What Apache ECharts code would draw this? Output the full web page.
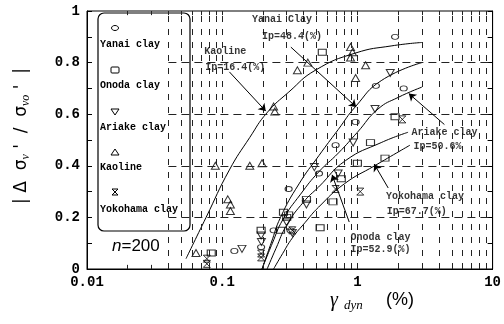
<!DOCTYPE html>
<html>
<head>
<meta charset="utf-8">
<script src="https://cdn.jsdelivr.net/npm/echarts@6/dist/echarts.min.js"></script>
<style>
  html, body { margin: 0; padding: 0; background: #fff; }
  #chart { width: 504px; height: 324px; }
</style>
</head>
<body>
<div id="chart"></div>
<script>
// ---- axis ticks and grid positions ----
const xTickLabels = ['0.01', '0.1', '1', '10'];
const yTickLabels = ['0', '0.2', '0.4', '0.6', '0.8', '1'];
const xGridValues = [0.04, 0.05, 0.06, 0.07, 0.08, 0.09, 0.1, 0.2, 0.3, 0.4, 0.5, 0.6, 0.7, 0.8, 0.9, 1, 2, 3, 4, 5, 6, 7, 8, 9];
const xTickValues = [0.02, 0.03, 0.04, 0.05, 0.06, 0.07, 0.08, 0.09, 0.1, 0.2, 0.3, 0.4, 0.5, 0.6, 0.7, 0.8, 0.9, 1, 2, 3, 4, 5, 6, 7, 8, 9];
const yGridValues = [0.2, 0.4, 0.6, 0.8];

// ---- measured points [gamma_dyn (%), |dσv'/σvo'|] ----
const yanaiPoints = [
  [0.123, 0.07], [0.194, 0.085], [0.24, 0.15], [0.32, 0.15], [0.31, 0.31], [0.52, 0.37],
  [0.69, 0.48], [0.97, 0.57], [1.37, 0.71], [2.2, 0.70], [1.9, 0.90]
];
const onodaPoints = [
  [0.083, 0.062], [0.194, 0.15], [0.27, 0.15], [0.284, 0.22], [0.30, 0.20], [0.31, 0.21],
  [0.42, 0.27], [0.53, 0.16], [0.66, 0.26], [0.76, 0.35], [1.0, 0.41], [1.25, 0.49],
  [1.6, 0.43], [1.9, 0.59], [0.55, 0.84]
];
const ariakePoints = [
  [0.14, 0.078], [0.194, 0.13], [0.195, 0.105], [0.30, 0.18], [0.33, 0.14], [0.42, 0.25],
  [0.48, 0.395], [0.72, 0.37], [0.93, 0.49], [1.35, 0.62], [1.75, 0.76]
];
const kaolinePoints = [
  [0.064, 0.062], [0.089, 0.40], [0.11, 0.27], [0.115, 0.25], [0.115, 0.225], [0.16, 0.40],
  [0.197, 0.41], [0.24, 0.63], [0.245, 0.61], [0.36, 0.77], [0.43, 0.80], [0.89, 0.86],
  [0.92, 0.84], [0.89, 0.82], [0.97, 0.74], [1.15, 0.79]
];
const yokohamaPoints = [
  [0.077, 0.04], [0.077, 0.02], [0.194, 0.06], [0.194, 0.045], [0.33, 0.15],
  [0.69, 0.31], [1.05, 0.30], [2.15, 0.58]
];

// ---- fitted curves ----
const kaolineCurve = [[0.054, 0.04], [0.076, 0.2], [0.113, 0.384], [0.16, 0.51], [0.214, 0.605], [0.311, 0.686], [0.491, 0.771], [0.967, 0.837], [1.8, 0.865], [3.0, 0.878]];
const yanaiCurve = [[0.197, 0], [0.23, 0.1], [0.27, 0.2], [0.37, 0.33], [0.52, 0.44], [0.72, 0.54], [0.97, 0.63], [1.5, 0.73], [3.0, 0.80]];
const ariakeCurve = [[0.197, 0], [0.235, 0.1], [0.28, 0.19], [0.38, 0.29], [0.517, 0.376], [0.725, 0.45], [1.0, 0.53], [1.42, 0.62], [2.0, 0.665], [3.0, 0.705]];
const onodaCurve = [[0.215, 0], [0.25, 0.08], [0.3, 0.17], [0.4, 0.26], [0.517, 0.318], [0.816, 0.42], [1.5, 0.49], [2.37, 0.53]];
const yokohamaCurve = [[0.24, 0], [0.28, 0.06], [0.33, 0.12], [0.41, 0.18], [0.517, 0.24], [0.8, 0.33], [1.34, 0.40], [2.45, 0.48]];

// ---- annotation texts (left edge, middle) and leader arrows ----
const noteTexts = [
  ['Kaoline', [0.0738, 0.843]],
  ['Ip=16.4(%)', [0.075, 0.78]],
  ['Yanai Clay', [0.166, 0.966]],
  ['Ip=48.4(%)', [0.197, 0.9]],
  ['Ariake clay', [2.51, 0.531]],
  ['Ip=50.6%', [2.6, 0.473]],
  ['Yokohama clay', [1.63, 0.283]],
  ['Ip=67.7(%)', [1.65, 0.221]],
  ['Onoda clay', [0.89, 0.124]],
  ['Ip=52.9(%)', [0.89, 0.074]]
];
const noteArrows = [
  [[0.113, 0.764], [0.21, 0.612]],
  [[0.322, 0.86], [0.98, 0.628]],
  [[4.4, 0.56], [2.4, 0.68]],
  [[1.69, 0.314], [1.33, 0.407]],
  [[0.87, 0.182], [0.65, 0.365]]
];

const MONO = '"Liberation Mono", "DejaVu Sans Mono", monospace';
const SANS = '"Liberation Sans", Arial, sans-serif';
const SERIF = '"Liberation Serif", "DejaVu Serif", serif';

const chart = echarts.init(document.getElementById('chart'), null, { renderer: 'canvas' });

const markerStyle = { color: 'rgba(0,0,0,0)', borderColor: '#000', borderWidth: 1 };

function scatter(name, data, symbol, size, rotate) {
  return {
    name, type: 'scatter', data, symbol, symbolSize: size, symbolRotate: rotate || 0,
    itemStyle: markerStyle, z: 4, silent: true
  };
}
function curve(name, data) {
  return {
    name, type: 'line', data, smooth: 0.5, showSymbol: false,
    lineStyle: { color: '#000', width: 1 }, z: 3, silent: true
  };
}

const gridLines = [];
xGridValues.forEach(v => gridLines.push([{ coord: [v, 0], lineStyle: { type: [6, 7] } }, { coord: [v, 1] }]));
yGridValues.forEach(v => gridLines.push([{ coord: [0.04, v], lineStyle: { type: [8, 5] } }, { coord: [10, v] }]));
xTickValues.forEach(v => {
  gridLines.push([{ coord: [v, 0], lineStyle: { type: 'solid' } }, { coord: [v, 0.016] }]);
  gridLines.push([{ coord: [v, 1], lineStyle: { type: 'solid' } }, { coord: [v, 0.984] }]);
});

const hourglass = 'path://M0,0L10,0L0,10L10,10Z';

const option = {
  animation: false,
  backgroundColor: '#fff',
  grid: { left: 87, right: 9, top: 11, bottom: 55, show: true, borderColor: '#000', borderWidth: 1 },
  xAxis: [{
    type: 'log', logBase: 10, min: 0.01, max: 10,
    axisLine: { show: true, lineStyle: { color: '#000' } },
    axisTick: { show: false }, splitLine: { show: false },
    axisLabel: {
      color: '#000', fontFamily: MONO, fontWeight: 'bold', fontSize: 14, margin: 6,
      formatter: v => xTickLabels.find(t => Math.abs(Math.log10(+t) - Math.log10(v)) < 1e-6) || ''
    }
  }],
  yAxis: [{
    type: 'value', min: 0, max: 1, interval: 0.2,
    axisLine: { show: true, lineStyle: { color: '#000' } },
    axisTick: { show: true, inside: true, length: 5, lineStyle: { color: '#000' } },
    minorTick: { show: true, splitNumber: 2, length: 5, lineStyle: { color: '#000' } },
    splitLine: { show: false },
    axisLabel: {
      color: '#000', fontFamily: MONO, fontWeight: 'bold', fontSize: 14, margin: 7,
      formatter: v => yTickLabels[Math.round(v / 0.2)]
    }
  }, {
    type: 'value', min: 0, max: 1, interval: 0.2, position: 'right',
    axisLine: { show: true, lineStyle: { color: '#000' } },
    axisTick: { show: true, inside: true, length: 5, lineStyle: { color: '#000' } },
    minorTick: { show: true, splitNumber: 2, length: 5, lineStyle: { color: '#000' } },
    splitLine: { show: false }, axisLabel: { show: false }
  }],
  series: [
    {
      name: 'grid', type: 'line', data: [], silent: true, z: 1,
      markLine: {
        silent: true, symbol: ['none', 'none'], label: { show: false },
        lineStyle: { color: '#222', width: 1 }, emphasis: { disabled: true },
        data: gridLines
      }
    },
    curve('Kaoline fit', kaolineCurve),
    curve('Yanai clay fit', yanaiCurve),
    curve('Ariake clay fit', ariakeCurve),
    curve('Onoda clay fit', onodaCurve),
    curve('Yokohama clay fit', yokohamaCurve),
    scatter('Yanai clay', yanaiPoints, 'circle', [7, 5]),
    scatter('Onoda clay', onodaPoints, 'rect', [8, 6]),
    scatter('Ariake clay', ariakePoints, 'triangle', [8, 7], 180),
    scatter('Kaoline', kaolinePoints, 'triangle', [8, 7]),
    scatter('Yokohama clay', yokohamaPoints, hourglass, [7, 7]),
    {
      name: 'notes', type: 'scatter', symbolSize: 0, silent: true, z: 6,
      data: noteTexts.map(n => ({ value: n[1], label: { formatter: n[0] } })),
      label: {
        show: true, position: 'right', distance: 0, color: '#000',
        fontFamily: MONO, fontWeight: 'bold', fontSize: 10
      },
      markLine: {
        silent: true, symbol: ['none', 'arrow'], symbolSize: 7, label: { show: false },
        lineStyle: { color: '#000', width: 1, type: 'solid' }, emphasis: { disabled: true },
        data: noteArrows.map(a => [{ coord: a[0] }, { coord: a[1] }])
      }
    }
  ],
  graphic: [
    // legend box
    {
      type: 'group', z: 100, children: [
        { type: 'rect', shape: { x: 98, y: 13, width: 92, height: 218, r: 6 }, style: { fill: '#fff', stroke: '#000', lineWidth: 1.2 } },
        { type: 'ellipse', shape: { cx: 115, cy: 28, rx: 3.5, ry: 2.5 }, style: { fill: 'none', stroke: '#000', lineWidth: 1 } },
        { type: 'text', x: 100, y: 44, style: { text: 'Yanai clay', font: 'bold 10px ' + MONO, fill: '#000', verticalAlign: 'middle' } },
        { type: 'rect', shape: { x: 111, y: 67, width: 8, height: 6, r: 1 }, style: { fill: 'none', stroke: '#000', lineWidth: 1 } },
        { type: 'text', x: 100, y: 85, style: { text: 'Onoda clay', font: 'bold 10px ' + MONO, fill: '#000', verticalAlign: 'middle' } },
        { type: 'polygon', shape: { points: [[111, 109], [119, 109], [115, 115]] }, style: { fill: 'none', stroke: '#000', lineWidth: 1 } },
        { type: 'text', x: 100, y: 127, style: { text: 'Ariake clay', font: 'bold 10px ' + MONO, fill: '#000', verticalAlign: 'middle' } },
        { type: 'polygon', shape: { points: [[115, 149], [119, 155], [111, 155]] }, style: { fill: 'none', stroke: '#000', lineWidth: 1 } },
        { type: 'text', x: 100, y: 167, style: { text: 'Kaoline', font: 'bold 10px ' + MONO, fill: '#000', verticalAlign: 'middle' } },
        { type: 'polygon', shape: { points: [[112, 189], [118, 189], [112, 195], [118, 195]] }, style: { fill: 'none', stroke: '#000', lineWidth: 1 } },
        { type: 'text', x: 100, y: 209, style: { text: 'Yokohama clay', font: 'bold 10px ' + MONO, fill: '#000', verticalAlign: 'middle' } }
      ]
    },
    // sample count
    {
      type: 'text', x: 112, y: 246, z: 100,
      style: {
        text: '{i|n}{r|=200}', verticalAlign: 'middle',
        rich: {
          i: { fontFamily: SANS, fontStyle: 'italic', fontSize: 17, fill: '#000' },
          r: { fontFamily: SANS, fontSize: 17, fill: '#000' }
        }
      }
    },
    // y-axis title
    {
      type: 'text', x: 22, y: 136, rotation: Math.PI / 2, z: 100,
      style: {
        text: '{b|| Δ  σ}{s|v}{b| \'  /  σ}{s|vo}{b| \'  |}', align: 'center', verticalAlign: 'middle',
        rich: {
          b: { fontFamily: '"DejaVu Sans", sans-serif', fontSize: 17, fill: '#000' },
          s: { fontFamily: SERIF, fontStyle: 'italic', fontSize: 12, fill: '#000', padding: [8, 0, 0, 0] }
        }
      }
    },
    // x-axis title
    { type: 'text', x: 334, y: 301, z: 100, style: { text: 'γ', font: 'italic 20px ' + SERIF, fill: '#000', align: 'center', verticalAlign: 'middle' } },
    { type: 'text', x: 344, y: 306, z: 100, style: { text: 'dyn', font: 'italic 13px ' + SERIF, fill: '#000', verticalAlign: 'middle' } },
    { type: 'text', x: 400, y: 300, z: 100, style: { text: '(%)', font: '18px ' + SANS, fill: '#000', align: 'center', verticalAlign: 'middle' } }
  ]
};

chart.setOption(option);
</script>
</body>
</html>
